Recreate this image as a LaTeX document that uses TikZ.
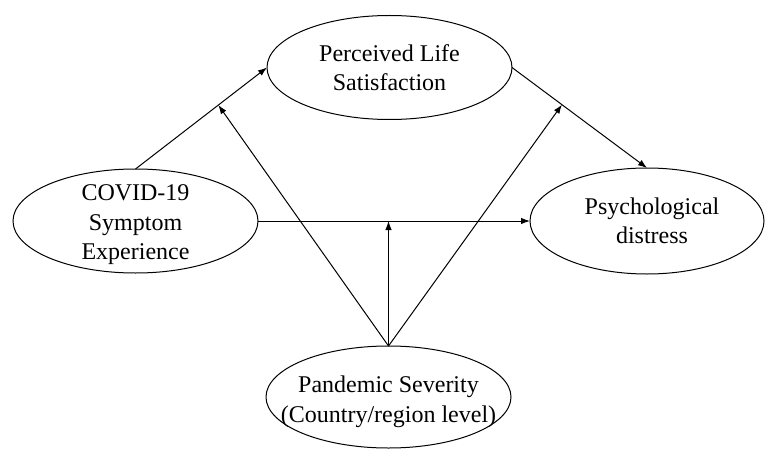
\documentclass[tikz,border=0pt]{standalone}
\usepackage{fontspec}
\setmainfont{Liberation Serif}
\usetikzlibrary{shapes.geometric,arrows.meta}

\begin{document}
\begin{tikzpicture}[x=1pt,y=1pt,inner sep=0pt]
\tikzstyle{oval}=[ellipse, draw=black, line width=1pt, minimum width=245pt, minimum height=104pt, outer sep=0pt]
\tikzstyle{txt}=[align=center, font=\fontsize{24}{29.5}\selectfont]
\tikzstyle{connect}=[-{Latex[length=9pt,width=6.5pt]}, line width=1pt]
\useasboundingbox (0,0) rectangle (765,448);
\node[oval] (pls) at (389.5,380.5) {};
\node[oval] (covid) at (135.5,227) {};
\node[oval,minimum width=234pt,minimum height=106pt] (psych) at (647,227) {};
\node[oval,minimum height=102pt] (sev) at (388.5,51) {};
\node[txt] (plsT) at (pls) {Perceived Life\\Satisfaction};
\node[txt,yshift=-4pt] (covidT) at (covid) {COVID-19\\Symptom\\Experience};
\node[txt,xshift=5pt] (psychT) at (psych) {Psychological\\distress};
\node[txt,yshift=-5pt] (sevT) at (sev) {Pandemic Severity\\(Country/region level)};

\draw[connect] (covid.north) -- coordinate[pos=0.63] (m1) (pls.west);
\draw[connect] (pls.east) -- coordinate[pos=0.37] (m2) (psych.north);
\draw[connect] (covid.east) -- coordinate[pos=0.485] (m3) (psych.west);
\draw[connect] (sev.north) -- (m1);
\draw[connect] (sev.north) -- (m2);
\draw[connect] (sev.north) -- (sev.north |- m3);
\end{tikzpicture}
\end{document}
